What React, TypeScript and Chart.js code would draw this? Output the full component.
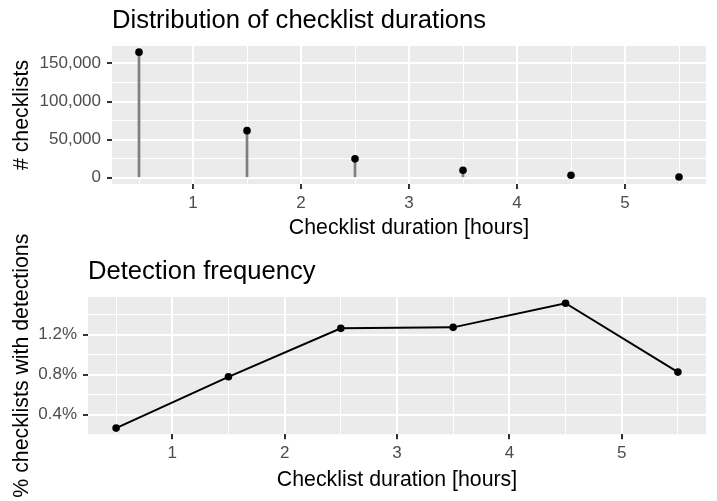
import React, { useEffect, useRef } from 'react';
import { Chart, registerables } from 'chart.js';

Chart.register(...registerables);

// ---- data ----
const durations = [0.5, 1.5, 2.5, 3.5, 4.5, 5.5];
const checklistCounts = [164800, 61800, 24800, 9800, 3300, 1000];
const detectionPct = [0.267, 0.779, 1.263, 1.273, 1.514, 0.826];

const xMajorTicks = [1, 2, 3, 4, 5];
const xMinorTicks = [0.5, 1.5, 2.5, 3.5, 4.5, 5.5];
const countMajorTicks = [0, 50000, 100000, 150000];
const countMinorTicks = [25000, 75000, 125000];
const pctMajorTicks = [0.4, 0.8, 1.2];
const pctMinorTicks = [0.6, 1.0, 1.4];

const topTitle = 'Distribution of checklist durations';
const bottomTitle = 'Detection frequency';
const xTitle = 'Checklist duration [hours]';
const topYTitle = '# checklists';
const bottomYTitle = '% checklists with detections';

const FONT = "'Liberation Sans', Arial, Helvetica, sans-serif";
const PANEL_BG = '#EBEBEB';
const TICK_COLOR = '#333333';
const TICK_LABEL = '#4D4D4D';

const near = (a: number, b: number) => Math.abs(a - b) < 1e-6;
const inList = (v: number, list: number[]) => list.some((t) => near(t, v));

const panelBg = {
  id: 'panelBg',
  beforeDraw(chart: any) {
    const { ctx, chartArea } = chart;
    ctx.save();
    ctx.fillStyle = PANEL_BG;
    ctx.fillRect(chartArea.left, chartArea.top, chartArea.right - chartArea.left, chartArea.bottom - chartArea.top);
    ctx.restore();
  },
};

const yTitlePlugin = {
  id: 'yTitle',
  afterDraw(chart: any, _args: any, opts: any) {
    const { ctx, chartArea } = chart;
    ctx.save();
    ctx.font = `21.3px ${FONT}`;
    ctx.fillStyle = '#000000';
    ctx.textAlign = 'center';
    ctx.textBaseline = 'alphabetic';
    ctx.translate(opts.x, (chartArea.top + chartArea.bottom) / 2);
    ctx.rotate(-Math.PI / 2);
    ctx.fillText(opts.text, 0, 0);
    ctx.restore();
  },
};

function gridFor(major: number[]) {
  return {
    color: '#FFFFFF',
    lineWidth: (c: any) => (c.tick && inList(c.tick.value, major) ? 2 : 1),
    tickColor: (c: any) => (c.tick && inList(c.tick.value, major) ? TICK_COLOR : 'rgba(0,0,0,0)'),
    tickLength: 5,
    tickWidth: 2,
    drawTicks: true,
    offset: false,
  };
}

function xScale(height: number, titlePadBottom: number) {
  const all = [...xMajorTicks, ...xMinorTicks].sort((a, b) => a - b);
  return {
    type: 'linear',
    min: 0.25,
    max: 5.75,
    offset: false,
    afterBuildTicks: (s: any) => {
      s.ticks = all.map((value) => ({ value }));
    },
    afterFit: (s: any) => {
      s.height = height;
    },
    ticks: {
      autoSkip: false,
      maxRotation: 0,
      minRotation: 0,
      padding: 4,
      color: TICK_LABEL,
      font: { family: FONT, size: 17 },
      callback: (v: any) => (inList(Number(v), xMajorTicks) ? String(Math.round(Number(v))) : ''),
    },
    grid: gridFor(xMajorTicks),
    border: { display: false },
    title: {
      display: true,
      text: xTitle,
      color: '#000000',
      font: { family: FONT, size: 21.3 },
      padding: { top: 0, bottom: titlePadBottom },
    },
  };
}

function yScale(width: number, min: number, max: number, major: number[], minor: number[], fmt: (v: number) => string) {
  const all = [...major, ...minor].sort((a, b) => a - b);
  return {
    type: 'linear',
    min,
    max,
    afterBuildTicks: (s: any) => {
      s.ticks = all.map((value) => ({ value }));
    },
    afterFit: (s: any) => {
      s.width = width;
    },
    ticks: {
      autoSkip: false,
      padding: 6,
      color: TICK_LABEL,
      font: { family: FONT, size: 17 },
      callback: (v: any) => (inList(Number(v), major) ? fmt(Number(v)) : ''),
    },
    grid: gridFor(major),
    border: { display: false },
  };
}

function titleOpts(text: string) {
  return {
    display: true,
    text,
    align: 'start',
    fullSize: false,
    color: '#000000',
    font: { family: FONT, size: 25.6, weight: 'normal' },
    padding: { top: 5.7, bottom: 9.6 },
  };
}

export default function App() {
  const topRef = useRef<HTMLCanvasElement>(null);
  const botRef = useRef<HTMLCanvasElement>(null);

  useEffect(() => {
    document.body.style.margin = '0';
    const pts = durations.map((x, i) => ({ x, y: checklistCounts[i] }));
    const top = new Chart(topRef.current as HTMLCanvasElement, {
      type: 'bar',
      data: {
        datasets: [
          {
            type: 'scatter',
            data: pts,
            pointRadius: 3.8,
            pointBackgroundColor: '#000000',
            pointBorderWidth: 0,
            order: 0,
          } as any,
          {
            type: 'bar',
            data: pts,
            backgroundColor: '#7F7F7F',
            barThickness: 2,
            order: 1,
          } as any,
        ],
      },
      options: {
        responsive: false,
        animation: false,
        devicePixelRatio: 1,
        layout: { padding: { left: 0, right: 11, top: 0, bottom: 0 } },
        scales: {
          x: xScale(66, 9.6) as any,
          y: yScale(112, -8230, 172830, countMajorTicks, countMinorTicks, (v) => v.toLocaleString('en-US')) as any,
        },
        plugins: {
          legend: { display: false },
          tooltip: { enabled: false },
          title: titleOpts(topTitle) as any,
          yTitle: { text: topYTitle, x: 28 },
        } as any,
      },
      plugins: [panelBg, yTitlePlugin],
    });

    const bot = new Chart(botRef.current as HTMLCanvasElement, {
      type: 'scatter',
      data: {
        datasets: [
          {
            data: durations.map((x, i) => ({ x, y: detectionPct[i] })),
            showLine: true,
            borderColor: '#000000',
            borderWidth: 2,
            pointRadius: 3.8,
            pointBackgroundColor: '#000000',
            pointBorderWidth: 0,
          } as any,
        ],
      },
      options: {
        responsive: false,
        animation: false,
        devicePixelRatio: 1,
        layout: { padding: { left: 0, right: 11, top: 31, bottom: 0.7 } },
        scales: {
          x: xScale(66, 7.9) as any,
          y: yScale(88, 0.205, 1.576, pctMajorTicks, pctMinorTicks, (v) => `${v.toFixed(1)}%`) as any,
        },
        plugins: {
          legend: { display: false },
          tooltip: { enabled: false },
          title: titleOpts(bottomTitle) as any,
          yTitle: { text: bottomYTitle, x: 28 },
        } as any,
      },
      plugins: [panelBg, yTitlePlugin],
    });

    return () => {
      top.destroy();
      bot.destroy();
    };
  }, []);

  return (
    <div style={{ position: 'relative', width: 717, height: 501, background: '#FFFFFF', overflow: 'hidden' }}>
      <canvas ref={topRef} width={717} height={250} style={{ position: 'absolute', left: 0, top: 0 }} />
      <canvas ref={botRef} width={717} height={281} style={{ position: 'absolute', left: 0, top: 220 }} />
    </div>
  );
}
